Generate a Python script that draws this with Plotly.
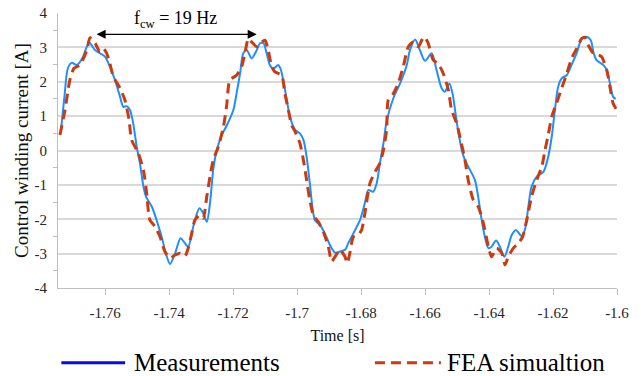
import plotly.graph_objects as go

# ---------------- data ----------------
meas_t = [-1.7738, -1.7727, -1.7716, -1.7704, -1.7688, -1.7669, -1.7660, -1.7649, -1.7641, -1.7631,
          -1.7616, -1.7600, -1.7585, -1.7569, -1.7553, -1.7543, -1.7532, -1.7522, -1.7512, -1.7501,
          -1.7491, -1.7480, -1.7472, -1.7454, -1.7439, -1.7423, -1.7410, -1.7397, -1.7381, -1.7364,
          -1.7350, -1.7340, -1.7329, -1.7319, -1.7305, -1.7293, -1.7282, -1.7272, -1.7262, -1.7251,
          -1.7235, -1.7220, -1.7199, -1.7189, -1.7178, -1.7168, -1.7157, -1.7142, -1.7126, -1.7116,
          -1.7105, -1.7095, -1.7085, -1.7074, -1.7059, -1.7052, -1.7043, -1.7032, -1.7022, -1.7006,
          -1.6991, -1.6980, -1.6970, -1.6960, -1.6944, -1.6928, -1.6913, -1.6897, -1.6881, -1.6866,
          -1.6850, -1.6840, -1.6824, -1.6803, -1.6788, -1.6777, -1.6762, -1.6751, -1.6741, -1.6730,
          -1.6720, -1.6699, -1.6678, -1.6657, -1.6647, -1.6631, -1.6616, -1.6600, -1.6579, -1.6564,
          -1.6548, -1.6538, -1.6524, -1.6514, -1.6505, -1.6497, -1.6485, -1.6475, -1.6465, -1.6444,
          -1.6434, -1.6423, -1.6413, -1.6402, -1.6392, -1.6378, -1.6366, -1.6352, -1.6340, -1.6329,
          -1.6316, -1.6298, -1.6288, -1.6277, -1.6267, -1.6251, -1.6230, -1.6215, -1.6204, -1.6194,
          -1.6184, -1.6173, -1.6157, -1.6142, -1.6126, -1.6110, -1.6095, -1.6082, -1.6074, -1.6064,
          -1.6043, -1.6032, -1.6022, -1.6012, -1.6004]
meas_i = [0.55, 1.55, 2.40, 2.55, 2.49, 2.72, 2.95, 3.14, 3.05, 2.92,
          2.83, 2.73, 2.44, 2.05, 1.56, 1.27, 1.29, 1.18, 0.79, 0.11,
          -0.37, -1.05, -1.34, -1.63, -2.02, -2.51, -2.99, -3.30, -2.99, -2.55,
          -2.70, -2.80, -2.41, -2.02, -1.68, -1.83, -2.07, -1.53, -0.57, 0.01,
          0.45, 0.72, 1.18, 1.66, 2.24, 2.83, 2.92, 2.68, 2.92, 3.12,
          3.12, 2.83, 2.49, 2.38, 2.49, 2.39, 2.05, 1.47, 0.98, 0.60,
          0.50, 0.31, -0.18, -0.95, -2.02, -2.17, -2.41, -2.75, -2.97, -2.94,
          -2.89, -2.70, -2.41, -2.02, -1.53, -1.15, -1.20, -0.95, -0.37, 0.21,
          0.85, 1.52, 1.95, 2.49, 2.92, 3.23, 2.92, 2.61, 2.83, 2.34,
          1.81, 1.71, 1.95, 1.66, 1.10, 0.60, 0.01, -0.28, -0.47, -0.86,
          -1.34, -2.02, -2.51, -2.84, -2.80, -2.62, -2.80, -3.09, -2.80, -2.46,
          -2.31, -2.49, -2.31, -1.63, -1.05, -0.76, -0.62, -0.18, 0.40, 1.18,
          1.85, 2.10, 2.19, 2.49, 2.83, 3.26, 3.31, 3.21, 2.87, 2.63,
          2.49, 2.34, 1.95, 1.56, 1.50]

fea_t = [-1.7741, -1.7725, -1.7710, -1.7697, -1.7678, -1.7657, -1.7647, -1.7631, -1.7616, -1.7605,
         -1.7595, -1.7585, -1.7574, -1.7553, -1.7538, -1.7525, -1.7517, -1.7496, -1.7480, -1.7470,
         -1.7460, -1.7444, -1.7428, -1.7413, -1.7397, -1.7381, -1.7366, -1.7350, -1.7340, -1.7329,
         -1.7319, -1.7303, -1.7293, -1.7282, -1.7272, -1.7262, -1.7246, -1.7230, -1.7220, -1.7210,
         -1.7189, -1.7173, -1.7163, -1.7152, -1.7142, -1.7126, -1.7110, -1.7100, -1.7090, -1.7079,
         -1.7069, -1.7048, -1.7038, -1.7027, -1.7017, -1.7006, -1.6991, -1.6980, -1.6970, -1.6960,
         -1.6949, -1.6934, -1.6918, -1.6902, -1.6892, -1.6881, -1.6866, -1.6850, -1.6843, -1.6835,
         -1.6824, -1.6809, -1.6798, -1.6788, -1.6772, -1.6756, -1.6741, -1.6730, -1.6720, -1.6715,
         -1.6699, -1.6684, -1.6668, -1.6652, -1.6637, -1.6621, -1.6610, -1.6602, -1.6590, -1.6574,
         -1.6559, -1.6543, -1.6527, -1.6517, -1.6501, -1.6491, -1.6475, -1.6465, -1.6449, -1.6434,
         -1.6423, -1.6413, -1.6402, -1.6392, -1.6376, -1.6360, -1.6350, -1.6340, -1.6324, -1.6309,
         -1.6295, -1.6282, -1.6267, -1.6251, -1.6235, -1.6225, -1.6215, -1.6204, -1.6189, -1.6173,
         -1.6157, -1.6142, -1.6126, -1.6110, -1.6100, -1.6090, -1.6074, -1.6059, -1.6048, -1.6032,
         -1.6022, -1.6012, -1.5994]
fea_i = [0.45, 1.18, 2.05, 2.39, 2.49, 2.92, 3.28, 3.12, 2.87, 2.97,
         2.83, 2.53, 2.15, 1.81, 1.47, 0.90, 0.31, -0.08, -0.57, -1.24,
         -2.02, -2.21, -2.51, -2.94, -3.13, -3.04, -2.99, -3.07, -2.84, -2.41,
         -2.02, -1.88, -1.97, -1.34, -0.76, -0.28, 0.11, 0.69, 1.30, 2.05,
         2.19, 2.44, 2.83, 3.26, 3.16, 3.02, 3.16, 3.21, 2.92, 2.44,
         2.29, 2.19, 1.66, 1.18, 0.74, 0.55, 0.21, -0.28, -0.86, -1.44,
         -1.88, -2.07, -2.36, -2.80, -3.23, -3.09, -2.89, -3.09, -3.28, -2.99,
         -2.51, -2.46, -2.31, -1.83, -0.95, -0.62, -0.37, 0.01, 0.60, 1.47,
         1.66, 1.95, 2.44, 3.02, 3.16, 3.02, 3.21, 3.31, 3.12, 2.63,
         2.53, 2.24, 1.76, 1.18, 0.79, 0.40, -0.28, -0.86, -1.44, -1.63,
         -1.92, -2.31, -2.80, -3.09, -2.84, -2.99, -3.33, -3.09, -2.84, -2.70,
         -2.51, -2.02, -1.34, -0.86, -0.47, 0.01, 0.45, 0.98, 1.37, 1.81,
         2.24, 2.68, 2.97, 3.26, 3.29, 3.07, 2.83, 2.78, 2.73, 2.34,
         1.85, 1.37, 1.08]

x_tickvals = [-1.76, -1.74, -1.72, -1.70, -1.68, -1.66, -1.64, -1.62, -1.60]
x_ticktext = ["-1.76", "-1.74", "-1.72", "-1.7", "-1.68", "-1.66", "-1.64", "-1.62", "-1.6"]
y_tickvals = [-4, -3, -2, -1, 0, 1, 2, 3, 4]
y_ticktext = ["-4", "-3", "-2", "-1", "0", "1", "2", "3", "4"]

series_names = ["Measurements", "FEA simualtion"]
period_start, period_end, period_level = -1.7631, -1.7126, 3.38
period_label = "f<sub>cw</sub> = 19 Hz"

# ---------------- styles ----------------
SERIF = "Liberation Serif"
BLUE_LINE = "#1E8FFF"
BLUE_LEG = "#0A0AE6"
RED = "#CC3A0E"
GRID = "#D9D9D9"
AXIS = "#BFBFBF"
TICK_FONT = dict(family=SERIF, size=15, color="#262626")

fig = go.Figure()
fig.add_trace(go.Scatter(x=meas_t, y=meas_i, mode="lines", name=series_names[0],
                         line=dict(color=BLUE_LINE, width=2, shape="spline", smoothing=0.8),
                         showlegend=False))
fig.add_trace(go.Scatter(x=fea_t, y=fea_i, mode="lines", name=series_names[1],
                         line=dict(color=RED, width=3, dash="10px,6px", shape="spline", smoothing=0.6),
                         showlegend=False))

fig.update_layout(
    width=641, height=376,
    margin=dict(l=58, r=24, t=13, b=88, autoexpand=False),
    plot_bgcolor="white", paper_bgcolor="white",
    font=dict(family=SERIF, color="#262626"),
    xaxis=dict(range=[-1.7747, -1.6], tickvals=x_tickvals, ticktext=x_ticktext,
               showgrid=False, zeroline=False, showline=True, linecolor=AXIS, linewidth=1,
               ticks="outside", ticklen=6, tickcolor=AXIS, tickfont=TICK_FONT,
               ticklabelstandoff=5, automargin=False,
               title=dict(text="Time [s]", font=dict(family=SERIF, size=16, color="#111"), standoff=9)),
    yaxis=dict(range=[-4, 4], tickvals=y_tickvals, ticktext=y_ticktext,
               showgrid=True, gridcolor=GRID, gridwidth=1.5, zeroline=False,
               showline=True, linecolor=AXIS, linewidth=1, ticks="", tickfont=TICK_FONT,
               ticklabelstandoff=7, automargin=False,
               minor=dict(tick0=0.5, dtick=1, ticks="outside", ticklen=4, tickcolor=AXIS, showgrid=False),
               title=dict(text="Control winding current [A]", font=dict(family=SERIF, size=19, color="#111"),
                          standoff=0)),
)

# period arrow
fig.add_annotation(x=period_end, y=period_level, ax=period_start, ay=period_level,
                   xref="x", yref="y", axref="x", ayref="y", text="", showarrow=True,
                   arrowside="end+start", arrowhead=2, arrowsize=1.5, arrowwidth=1.2,
                   arrowcolor="black", standoff=0, startstandoff=0)
fig.add_annotation(x=(period_start + period_end) / 2, y=period_level, xref="x", yref="y",
                   text=period_label, showarrow=False, yanchor="bottom", yshift=1,
                   font=dict(size=18, color="black", family=SERIF))

# manual legend below the plot
leg_y = -0.272
fig.add_shape(type="line", xref="paper", yref="paper", x0=0.006, x1=0.12, y0=leg_y, y1=leg_y,
              line=dict(color=BLUE_LEG, width=3))
fig.add_annotation(xref="paper", yref="paper", x=0.132, y=leg_y, text=series_names[0],
                   showarrow=False, xanchor="left", yanchor="middle",
                   font=dict(size=25, color="black", family=SERIF))
fig.add_shape(type="line", xref="paper", yref="paper", x0=0.567, x1=0.685, y0=leg_y, y1=leg_y,
              line=dict(color=RED, width=3, dash="10px,6px"))
fig.add_annotation(xref="paper", yref="paper", x=0.693, y=leg_y, text=series_names[1],
                   showarrow=False, xanchor="left", yanchor="middle",
                   font=dict(size=25, color="black", family=SERIF))

fig.write_html("out.html")
